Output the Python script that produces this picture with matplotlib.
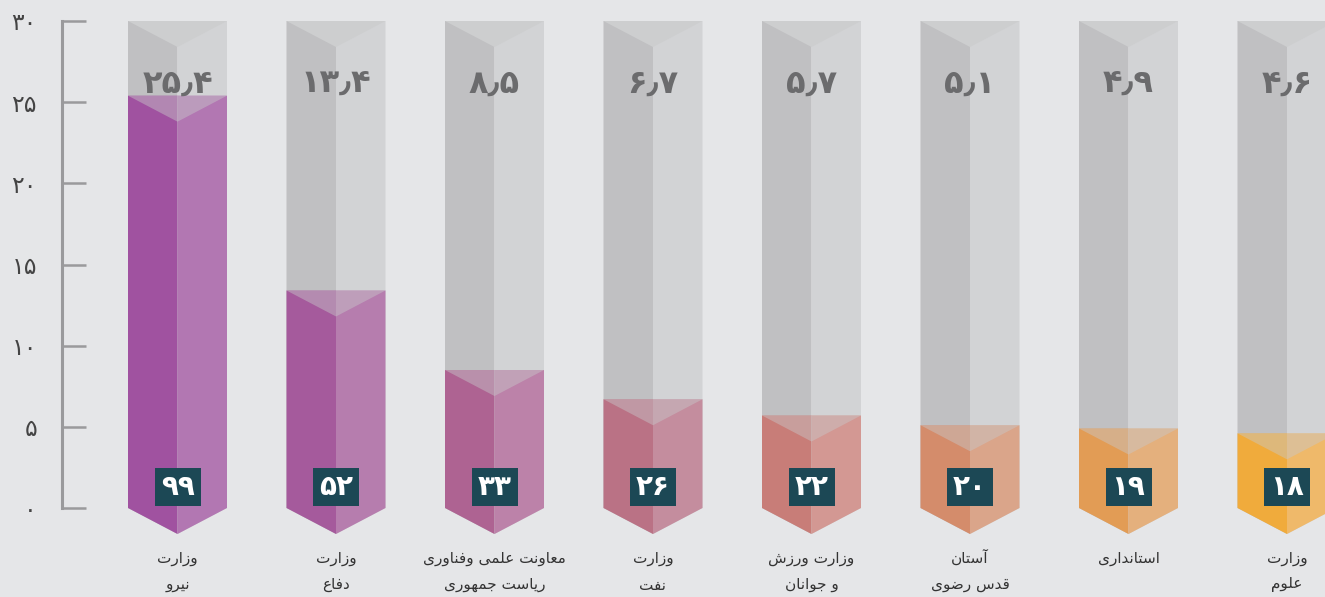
#!/usr/bin/env python3
"""Prism bar chart with Persian labels."""
import matplotlib
matplotlib.use('Agg')
import matplotlib.pyplot as plt
from matplotlib.patches import Polygon, Rectangle

# data
LABELS = ['وزارت\nنیرو', 'وزارت\nدفاع', 'معاونت علمی وفناوری\nریاست جمهوری',
          'وزارت\nنفت', 'وزارت ورزش\nو جوانان', 'آستان\nقدس رضوی',
          'استانداری', 'وزارت\nعلوم']
VALUES = [25.4, 13.4, 8.5, 6.7, 5.7, 5.1, 4.9, 4.6]
COUNTS = [99, 52, 33, 26, 22, 20, 19, 18]
YTICKS = [0, 5, 10, 15, 20, 25, 30]

DARK = ['#a052a0', '#a55a9c', '#ae6392', '#ba7285',
        '#c87d78', '#d48c6b', '#e29c55', '#f0ab3c']
LIGHT = ['#b277b2', '#b67dae', '#bc82a9', '#c48d9e',
         '#d39893', '#daa58a', '#e4b07d', '#efb96a']

# arabic presentation forms: isolated, final, initial, medial
FORMS = {
    'ا': ('\ufe8d', '\ufe8e', None, None),
    'آ': ('\ufe81', '\ufe82', None, None),
    'ت': ('\ufe95', '\ufe96', '\ufe97', '\ufe98'),
    'ج': ('\ufe9d', '\ufe9e', '\ufe9f', '\ufea0'),
    'د': ('\ufea9', '\ufeaa', None, None),
    'ر': ('\ufead', '\ufeae', None, None),
    'ز': ('\ufeaf', '\ufeb0', None, None),
    'س': ('\ufeb1', '\ufeb2', '\ufeb3', '\ufeb4'),
    'ش': ('\ufeb5', '\ufeb6', '\ufeb7', '\ufeb8'),
    'ض': ('\ufebd', '\ufebe', '\ufebf', '\ufec0'),
    'ع': ('\ufec9', '\ufeca', '\ufecb', '\ufecc'),
    'ف': ('\ufed1', '\ufed2', '\ufed3', '\ufed4'),
    'ق': ('\ufed5', '\ufed6', '\ufed7', '\ufed8'),
    'ل': ('\ufedd', '\ufede', '\ufedf', '\ufee0'),
    'م': ('\ufee1', '\ufee2', '\ufee3', '\ufee4'),
    'ن': ('\ufee5', '\ufee6', '\ufee7', '\ufee8'),
    'ه': ('\ufee9', '\ufeea', '\ufeeb', '\ufeec'),
    'و': ('\ufeed', '\ufeee', None, None),
    'ی': ('\ufbfc', '\ufbfd', '\ufbfe', '\ufbff'),
}


def shape(line):
    """Join letters and reverse for left-to-right drawing."""
    out = []
    for k, ch in enumerate(line):
        if ch not in FORMS:
            out.append(ch)
            continue
        prev = line[k - 1] if k > 0 else ''
        nxt = line[k + 1] if k + 1 < len(line) else ''
        join_prev = prev in FORMS and FORMS[prev][2] is not None
        join_next = nxt in FORMS and FORMS[ch][2] is not None
        iso, fin, ini, med = FORMS[ch]
        if join_prev and join_next:
            out.append(med)
        elif join_prev:
            out.append(fin)
        elif join_next:
            out.append(ini)
        else:
            out.append(iso)
    return ''.join(reversed(out))


def fa_num(x):
    s = str(x).replace('.', '\u066b')
    return ''.join('۰۱۲۳۴۵۶۷۸۹'[int(c)] if c.isdigit() else c for c in s)


W, H = 1325, 597
PX = 487 / 30.0          # pixels per unit on y
STEP = 158.5             # pixels per bar on x
fig = plt.figure(figsize=(W / 100, H / 100), dpi=100)
fig.patch.set_facecolor('#e5e6e8')
ax = fig.add_axes([0, 0, 1, 1])
ax.set_facecolor('#e5e6e8')
ax.set_xlim(-177.5 / STEP, (W - 177.5) / STEP)
ax.set_ylim(-89 / PX, 30 + 21 / PX)

hw = 49.5 / STEP
dep = 26 / PX
top = 30
for i, (v, n) in enumerate(zip(VALUES, COUNTS)):
    c = i
    # gray column
    ax.add_patch(Polygon([(c - hw, top), (c - hw, 0), (c, -dep), (c, top)],
                         color='#c0c0c2', lw=0))
    ax.add_patch(Polygon([(c, top), (c, -dep), (c + hw, 0), (c + hw, top)],
                         color='#d2d3d5', lw=0))
    ax.add_patch(Polygon([(c - hw, top), (c + hw, top), (c, top - dep)],
                         color='#cdcecf', lw=0))
    # coloured part
    ax.add_patch(Polygon([(c - hw, v), (c - hw, 0), (c, -dep), (c, v)],
                         color=DARK[i], lw=0))
    ax.add_patch(Polygon([(c, v), (c, -dep), (c + hw, 0), (c + hw, v)],
                         color=LIGHT[i], lw=0))
    ax.add_patch(Polygon([(c - hw, v), (c + hw, v), (c, v - dep)],
                         color='#c8c8ca', alpha=0.45, lw=0))
    # value on top
    ax.text(c, 26.1, fa_num(v), ha='center', va='center', fontsize=23,
            fontweight='bold', color='#6b6b6d')
    # count badge
    ax.add_patch(Rectangle((c - 23 / STEP, 0.1), 46 / STEP, 38 / PX,
                           color='#1c4855', lw=0))
    ax.text(c, 0.1 + 19 / PX, fa_num(n), ha='center', va='center',
            fontsize=20, fontweight='bold', color='white')
    # category label
    for j, part in enumerate(LABELS[i].split('\n')):
        ax.text(c, -(558 - 508) / PX - j * 27 / PX, shape(part),
                ha='center', va='center', fontsize=11, color='#333333')

# y axis
for s in ['top', 'right', 'bottom']:
    ax.spines[s].set_visible(False)
ax.spines['left'].set_position(('data', (62 - 177.5) / STEP))
ax.spines['left'].set_bounds(0, 30)
ax.spines['left'].set_color('#9a9a9c')
ax.spines['left'].set_linewidth(2.2)
ax.set_yticks(YTICKS)
ax.set_yticklabels([fa_num(t) for t in YTICKS])
ax.tick_params(axis='y', direction='in', length=17.5, width=1.8,
               color='#9a9a9c', pad=18, labelsize=17, labelcolor='#444444')
ax.set_xticks([])

fig.savefig('out.png', dpi=100, facecolor=fig.get_facecolor())
